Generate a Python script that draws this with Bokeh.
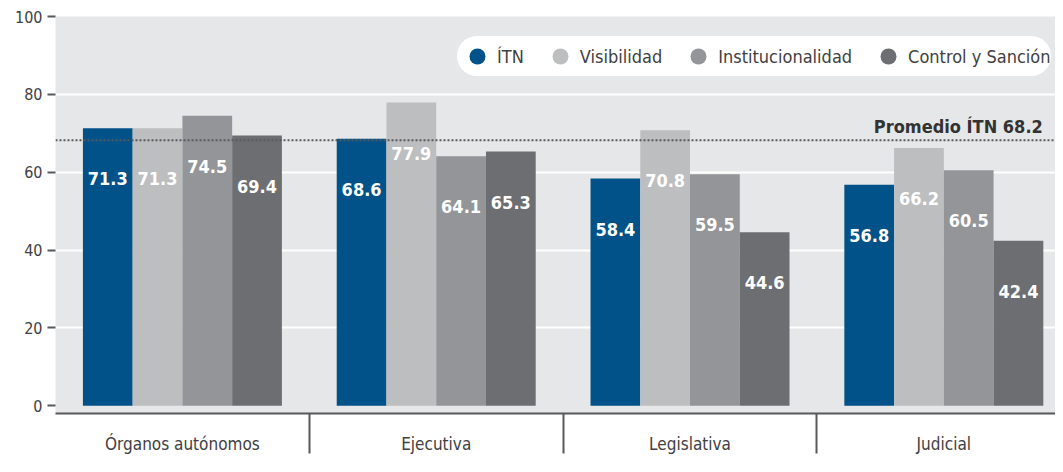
from bokeh.plotting import figure
from bokeh.models import (Range1d, FixedTicker, Span, Label, Legend, LegendItem,
                          ColumnDataSource)
from bokeh.core.properties import value
from bokeh.embed import file_html
from bokeh.resources import INLINE

categories = ["Órganos autónomos", "Ejecutiva", "Legislativa", "Judicial"]
series = ["ÍTN", "Visibilidad", "Institucionalidad", "Control y Sanción"]
itn = [71.3, 68.6, 58.4, 56.8]
visibilidad = [71.3, 77.9, 70.8, 66.2]
institucionalidad = [74.5, 64.1, 59.5, 60.5]
control = [69.4, 65.3, 44.6, 42.4]
promedio_itn = 68.2
promedio_label = "Promedio ÍTN 68.2"
y_ticks = [0, 20, 40, 60, 80, 100]
colors = ["#005288", "#bcbec0", "#939598", "#6d6e71"]

FONT = "DejaVu Sans Condensed"
TXT = "#414042"
AX = "#58595b"

p = figure(width=1055, height=456, output_backend="svg", toolbar_location=None,
           x_range=Range1d(-0.5, 3.44), y_range=Range1d(-2, 100),
           min_border_left=55, min_border_right=0, min_border_top=16, min_border_bottom=0)
p.background_fill_color = "#e6e7e8"
p.border_fill_color = "white"
p.outline_line_color = None

# grid
p.xgrid.grid_line_color = None
p.ygrid.ticker = FixedTicker(ticks=[t for t in y_ticks if 0 < t < 100])
p.ygrid.grid_line_color = "white"
p.ygrid.grid_line_width = 2

# bars
bw = 0.196
all_vals = [itn, visibilidad, institucionalidad, control]
items = []
for k, (name, vals, c) in enumerate(zip(series, all_vals, colors)):
    xs = [i + (k - 1.5) * bw for i in range(len(categories))]
    src = ColumnDataSource(dict(x=xs, top=vals, ly=[v - 13 for v in vals],
                                txt=[f"{v:.1f}" for v in vals]))
    p.vbar(x="x", top="top", bottom=0, width=bw, source=src, fill_color=c, line_color=None)
    p.text(x="x", y="ly", text="txt", source=src, text_color="white",
           text_font=value(FONT), text_font_style="bold", text_font_size="18px",
           text_align="center", text_baseline="middle")
    # legend-only circle marker (hidden renderer, shown in legend)
    r = p.scatter(x="x", y="top", source=src, marker="circle", size=16,
                  fill_color=c, line_color=None, visible=False)
    items.append(LegendItem(label=name, renderers=[r]))

# average line
p.add_layout(Span(location=promedio_itn, dimension="width", line_color=AX,
                  line_width=2, line_dash="2 2"))
p.add_layout(Label(x=3.39, y=promedio_itn, y_offset=3, text=promedio_label,
                   text_font=FONT, text_font_style="bold", text_font_size="18px",
                   text_color="#333333", text_align="right", text_baseline="bottom"))

# legend
legend = Legend(items=items, orientation="horizontal", location=(402, 337),
                glyph_width=40, glyph_height=40, label_standoff=0, spacing=16,
                padding=0, margin=0, background_fill_color="white",
                background_fill_alpha=1.0, border_line_color=None,
                inactive_fill_alpha=0.0,
                label_text_font=FONT, label_text_font_size="18px", label_text_color=TXT)
try:
    legend.border_radius = 20
except Exception:
    pass
p.add_layout(legend)

# x axis
p.xaxis.ticker = FixedTicker(ticks=list(range(len(categories))),
                             minor_ticks=[i + 0.5 for i in range(len(categories) - 1)])
p.xaxis.major_label_overrides = {i: c for i, c in enumerate(categories)}
p.xaxis.major_tick_out = 0
p.xaxis.major_tick_in = 0
p.xaxis.minor_tick_out = 40
p.xaxis.minor_tick_in = 0
p.xaxis.minor_tick_line_width = 2
p.xaxis.minor_tick_line_color = AX
p.xaxis.axis_line_color = AX
p.xaxis.axis_line_width = 2
p.xaxis.major_label_standoff = -20
p.xaxis.major_label_text_font = FONT
p.xaxis.major_label_text_font_size = "17px"
p.xaxis.major_label_text_color = TXT

# y axis
p.yaxis.ticker = FixedTicker(ticks=y_ticks, minor_ticks=[])
p.yaxis.axis_line_color = None
p.yaxis.major_tick_out = 8
p.yaxis.major_tick_in = 0
p.yaxis.major_tick_line_color = AX
p.yaxis.major_tick_line_width = 2
p.yaxis.major_label_standoff = 5
p.yaxis.major_label_text_font = FONT
p.yaxis.major_label_text_font_size = "16px"
p.yaxis.major_label_text_color = TXT

open("out.html", "w").write(file_html(p, INLINE))
